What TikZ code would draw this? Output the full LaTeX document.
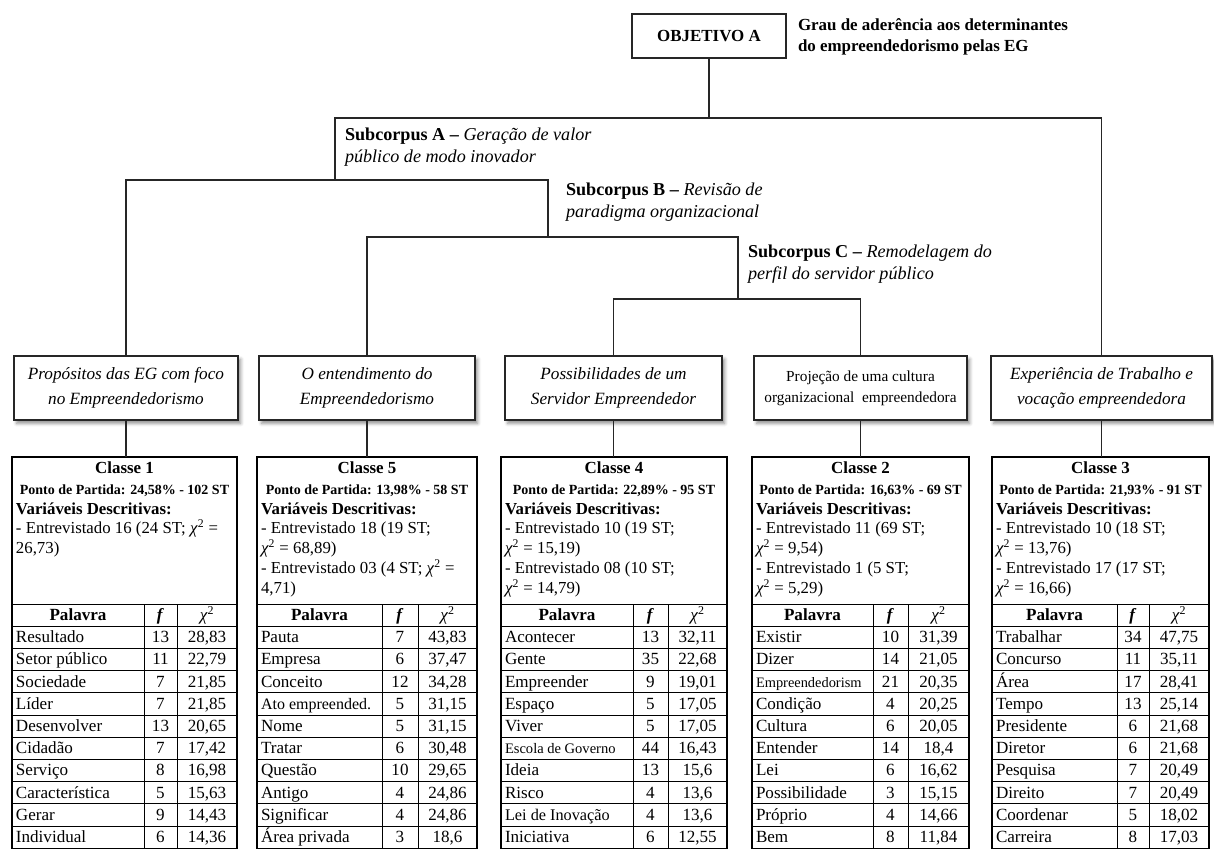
\documentclass[tikz,border=0pt]{standalone}
\usepackage{fontspec}
\setmainfont{Liberation Serif}
\usetikzlibrary{shadows.blur}

\newcommand\chisq{\textit{χ}\textsuperscript{2}}
\newcommand\setfs[2]{\fontsize{#1}{#2}\selectfont}

\tikzset{
  every node/.style={inner sep=0pt, outer sep=0pt},
  tree/.style={draw=black!85, line width=0.8pt},
  rule/.style={draw=black, line width=0.75pt},
  panel/.style={draw=black, line width=0.9pt, inner sep=0pt},
  rootbox/.style={draw=black!85, line width=1pt, minimum width=115.5pt, minimum height=33pt,
    font=\setfs{12.7}{15}\bfseries},
  lead/.style={font=\setfs{12.7}{15}\bfseries},
  theme/.style={draw=black!85, line width=1pt, fill=white, align=center, minimum height=48pt,
    font=\setfs{12.9}{18.75}\itshape,
    blur shadow={shadow xshift=2pt, shadow yshift=-2.5pt, shadow blur radius=2.5pt, shadow opacity=45}},
  themeup/.style={theme, font=\setfs{11.5}{15.75}\upshape},
  sub/.style={font=\setfs{13.6}{16}},
  cls/.style={font=\setfs{12.7}{15}\bfseries},
  ponto/.style={font=\setfs{10.5}{12}\bfseries},
  vtext/.style={font=\setfs{12.6}{15}},
  cell/.style={font=\setfs{12.8}{15}},
  headw/.style={font=\setfs{12.8}{15}\bfseries},
  headx/.style={font=\setfs{12.8}{15}},
}

% outer frame, grid and header row of one class table
\newcommand{\Frame}[5]{%
  \pgfmathsetmacro\pw{(#5-#2)*0.75}%
  \pgfmathsetmacro\pc{(#2+#5)/2}%
  \node[panel, minimum width=\pw pt, minimum height=293.4pt] (#1) at (\pc,652.6) {};
  \foreach \k in {0,...,10} {\draw[rule] (#2,{604+22.2*\k}) -- (#5,{604+22.2*\k});}
  \draw[rule] (#3,604) -- (#3,848.2);
  \draw[rule] (#4,604) -- (#4,848.2);
  \node[headw, anchor=base] (#1-hw) at ({(#2+#3)/2},620.5) {Palavra};
  \node[headw, anchor=base] (#1-hf) at ({(#3+#4)/2},620.5) {\textit{f}};
  \node[headx, anchor=base] (#1-hx) at ({(#4+#5)/2},620.5) {\chisq};
}

% class title, starting point and descriptive variables
\newcommand{\Head}[5]{%
  \node[cls, anchor=base] (#1-cl) at ({(#2+#3)/2},473) {#4};
  \node[ponto, anchor=base] (#1-pp) at ({(#2+#3)/2},494.5) {Ponto de Partida: #5};
}
\newcommand{\Vars}[3]{%
  \foreach \ln [count=\j] in {#3} {
    \node[vtext, anchor=base west] (#1-v\j) at ({#2+4},{514+19.75*(\j-1)}) {\ln};
  }
}

% word / frequency / chi-square rows
\newcommand{\Rows}[6]{%
  \foreach \cw/\cf/\cx [count=\i] in {#6} {
    \pgfmathsetmacro\yb{604+22.2*\i+16.5}
    \node[cell, anchor=base west] (#1-w\i) at ({#2+4},\yb) {\cw};
    \node[cell, anchor=base] (#1-f\i) at ({(#3+#4)/2},\yb) {\cf};
    \node[cell, anchor=base] (#1-x\i) at ({(#4+#5)/2},\yb) {\cx};
  }
}

\begin{document}
\begin{tikzpicture}[x=0.75pt, y=-0.75pt]
\useasboundingbox (0,0) rectangle (1214,849);

% root of the tree
\node[rootbox] (obj) at (709,36) {OBJETIVO A};
\node[lead, anchor=base west] (goal1) at (798,31) {Grau de aderência aos determinantes};
\node[lead, anchor=base west] (goal2) at (798,52) {do empreendedorismo pelas EG};

% subcorpus labels
\node[sub, anchor=base west] (sa1) at (345,140) {\textbf{Subcorpus A –} \textit{Geração de valor}};
\node[sub, anchor=base west] (sa2) at (345,162) {\textit{público de modo inovador}};
\node[sub, anchor=base west] (sb1) at (566,195) {\textbf{Subcorpus B –} \textit{Revisão de}};
\node[sub, anchor=base west] (sb2) at (566,217) {\textit{paradigma organizacional}};
\node[sub, anchor=base west] (sc1) at (748,257) {\textbf{Subcorpus C –} \textit{Remodelagem do}};
\node[sub, anchor=base west] (sc2) at (748,279) {\textit{perfil do servidor público}};

% thematic boxes
\node[theme, minimum width=168pt] (t1) at (126,388) {Propósitos das EG com foco\\no Empreendedorismo};
\node[theme, minimum width=162pt] (t2) at (367,388) {O entendimento do\\Empreendedorismo};
\node[theme, minimum width=162.75pt] (t3) at (613.5,388) {Possibilidades de um\\Servidor Empreendedor};
\node[themeup, minimum width=159.75pt] (t4) at (860.5,388) {Projeção de uma cultura\\organizacional\ \ empreendedora};
\node[theme, minimum width=165.75pt] (t5) at (1101.5,388) {Experiência de Trabalho e\\vocação empreendedora};

% branching of the classification
\coordinate (levA) at (0,118);
\coordinate (nA) at (335,180);
\coordinate (nB) at (548,237);
\coordinate (nC) at (738,299);
\draw[tree] (obj.south) -- (obj.south |- levA);
\draw[tree] (nA) -- (nA |- levA) -- (t5.north |- levA) -- (t5.north);
\draw[tree] (t1.north) -- (t1.north |- nA) -- (nB |- nA) -- (nB);
\draw[tree] (t2.north) -- (t2.north |- nB) -- (nC |- nB) -- (nC);
\draw[tree] (t3.north) -- (t3.north |- nC) -- (t4.north |- nC) -- (t4.north);

% class tables
\Frame{c1}{12}{144}{177}{237}
\Frame{c5}{257}{382}{418}{477}
\Frame{c4}{501}{633}{668}{727}
\Frame{c2}{752}{873}{908}{969}
\Frame{c3}{992}{1117}{1149}{1209}

\draw[tree] (t1.south) -- (t1.south |- c1.north);
\draw[tree] (t2.south) -- (t2.south |- c5.north);
\draw[tree] (t3.south) -- (t3.south |- c4.north);
\draw[tree] (t4.south) -- (t4.south |- c2.north);
\draw[tree] (t5.south) -- (t5.south |- c3.north);

\Head{c1}{12}{237}{Classe 1}{24,58\% - 102 ST}
\Head{c5}{257}{477}{Classe 5}{13,98\% - 58 ST}
\Head{c4}{501}{727}{Classe 4}{22,89\% - 95 ST}
\Head{c2}{752}{969}{Classe 2}{16,63\% - 69 ST}
\Head{c3}{992}{1209}{Classe 3}{21,93\% - 91 ST}

\Vars{c1}{12}{\textbf{Variáveis Descritivas:}, {- Entrevistado 16 (24 ST; \chisq{} =}, {26,73)}}
\Vars{c5}{257}{\textbf{Variáveis Descritivas:}, {- Entrevistado 18 (19 ST;}, {\chisq{} = 68,89)}, {- Entrevistado 03 (4 ST; \chisq{} =}, {4,71)}}
\Vars{c4}{501}{\textbf{Variáveis Descritivas:}, {- Entrevistado 10 (19 ST;}, {\chisq{} = 15,19)}, {- Entrevistado 08 (10 ST;}, {\chisq{} = 14,79)}}
\Vars{c2}{752}{\textbf{Variáveis Descritivas:}, {- Entrevistado 11 (69 ST;}, {\chisq{} = 9,54)}, {- Entrevistado 1 (5 ST;}, {\chisq{} = 5,29)}}
\Vars{c3}{992}{\textbf{Variáveis Descritivas:}, {- Entrevistado 10 (18 ST;}, {\chisq{} = 13,76)}, {- Entrevistado 17 (17 ST;}, {\chisq{} = 16,66)}}

\Rows{c1}{12}{144}{177}{237}{Resultado/13/{28,83}, Setor público/11/{22,79}, Sociedade/7/{21,85},
  Líder/7/{21,85}, Desenvolver/13/{20,65}, Cidadão/7/{17,42}, Serviço/8/{16,98},
  Característica/5/{15,63}, Gerar/9/{14,43}, Individual/6/{14,36}}
\Rows{c5}{257}{382}{418}{477}{Pauta/7/{43,83}, Empresa/6/{37,47}, Conceito/12/{34,28},
  {\setfs{12}{13}Ato empreended.}/5/{31,15}, Nome/5/{31,15}, Tratar/6/{30,48}, Questão/10/{29,65},
  Antigo/4/{24,86}, Significar/4/{24,86}, Área privada/3/{18,6}}
\Rows{c4}{501}{633}{668}{727}{Acontecer/13/{32,11}, Gente/35/{22,68}, Empreender/9/{19,01},
  Espaço/5/{17,05}, Viver/5/{17,05}, {\setfs{10.9}{12}Escola de Governo}/44/{16,43}, Ideia/13/{15,6},
  Risco/4/{13,6}, {\setfs{12.2}{14}Lei de Inovação}/4/{13,6}, Iniciativa/6/{12,55}}
\Rows{c2}{752}{873}{908}{969}{Existir/10/{31,39}, Dizer/14/{21,05}, {\setfs{10.8}{12}Empreendedorism}/21/{20,35},
  Condição/4/{20,25}, Cultura/6/{20,05}, Entender/14/{18,4}, Lei/6/{16,62},
  Possibilidade/3/{15,15}, Próprio/4/{14,66}, Bem/8/{11,84}}
\Rows{c3}{992}{1117}{1149}{1209}{Trabalhar/34/{47,75}, Concurso/11/{35,11}, Área/17/{28,41},
  Tempo/13/{25,14}, Presidente/6/{21,68}, Diretor/6/{21,68}, Pesquisa/7/{20,49},
  Direito/7/{20,49}, Coordenar/5/{18,02}, Carreira/8/{17,03}}

\end{tikzpicture}
\end{document}
